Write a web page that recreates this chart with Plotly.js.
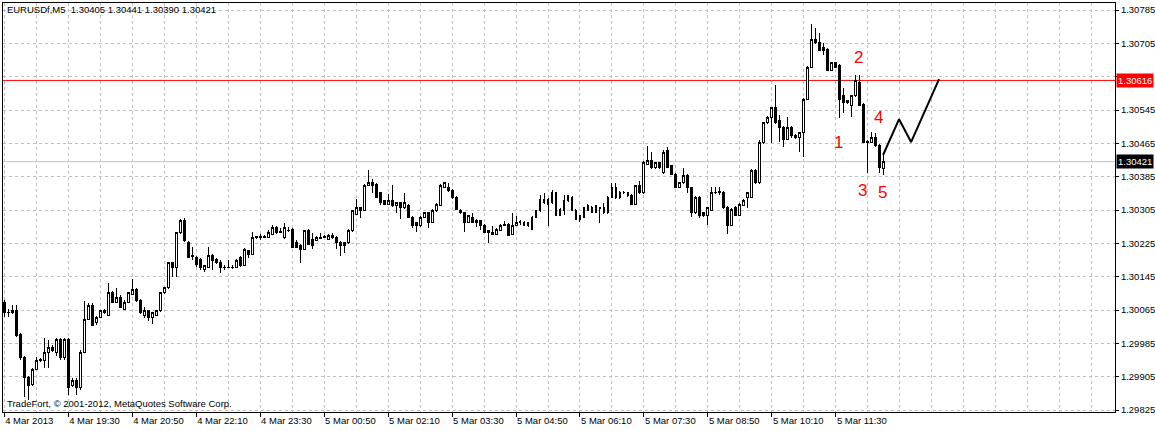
<!DOCTYPE html>
<html><head><meta charset="utf-8">
<script src="https://cdn.plot.ly/plotly-3.0.1.min.js"></script>
<style>html,body{margin:0;padding:0;background:#fff;}#chart{width:1155px;height:431px;}
#chart .boxlayer path{shape-rendering:crispEdges;}</style>
</head><body><div id="chart"></div>
<script>
// EURUSDf M5 bars, first bar = 4 Mar 2013 18:10, one bar per index
const open = [1.30084,1.30058,1.30060,1.30063,1.30007,1.29952,1.29904,1.29887,1.29923,1.29945,
1.29945,1.29964,1.29976,1.29962,1.29995,1.29952,1.29995,1.29885,1.29897,1.29878,
1.29964,1.30043,1.30077,1.30034,1.30048,1.30065,1.30053,1.30106,1.30084,1.30096,
1.30067,1.30084,1.30103,1.30115,1.30089,1.30053,1.30063,1.30048,1.30053,1.30063,
1.30106,1.30118,1.30178,1.30168,1.30250,1.30279,1.30228,1.30195,1.30192,1.30187,
1.30163,1.30168,1.30197,1.30187,1.30178,1.30168,1.30167,1.30168,1.30167,1.30192,
1.30173,1.30207,1.30199,1.30240,1.30241,1.30240,1.30240,1.30247,1.30264,1.30252,
1.30238,1.30257,1.30259,1.30226,1.30221,1.30211,1.30257,1.30235,1.30233,1.30238,
1.30240,1.30235,1.30245,1.30240,1.30228,1.30226,1.30226,1.30255,1.30295,1.30310,
1.30305,1.30365,1.30372,1.30367,1.30346,1.30327,1.30319,1.30329,1.30315,1.30322,
1.30310,1.30317,1.30288,1.30274,1.30267,1.30288,1.30298,1.30276,1.30303,1.30317,
1.30360,1.30360,1.30353,1.30336,1.30305,1.30298,1.30276,1.30288,1.30281,1.30279,
1.30269,1.30255,1.30250,1.30247,1.30257,1.30269,1.30271,1.30247,1.30269,1.30276,
1.30276,1.30274,1.30259,1.30288,1.30303,1.30322,1.30331,1.30322,1.30346,1.30293,
1.30305,1.30327,1.30336,1.30305,1.30283,1.30288,1.30305,1.30300,1.30300,1.30310,
1.30310,1.30298,1.30336,1.30360,1.30334,1.30348,1.30346,1.30341,1.30319,1.30363,
1.30346,1.30415,1.30423,1.30406,1.30418,1.30394,1.30449,1.30411,1.30391,1.30360,
1.30370,1.30389,1.30358,1.30298,1.30336,1.30298,1.30291,1.30305,1.30346,1.30348,
1.30348,1.30312,1.30269,1.30312,1.30293,1.30317,1.30334,1.30336,1.30401,1.30370,
1.30466,1.30514,1.30528,1.30552,1.30519,1.30504,1.30475,1.30504,1.30485,1.30478,
1.30490,1.30571,1.30648,1.30715,1.30708,1.30694,1.30691,1.30641,1.30658,1.30653,
1.30579,1.30562,1.30557,1.30579,1.30612,1.30559,1.30468,1.30468,1.30478,1.30461,
1.30405];
const high = [1.30089,1.30067,1.30077,1.30077,1.30010,1.29955,1.29907,1.29926,1.29952,1.29950,
1.29998,1.29993,1.29981,1.29998,1.29998,1.29998,1.29998,1.29902,1.29902,1.29969,
1.30087,1.30082,1.30082,1.30051,1.30065,1.30067,1.30130,1.30111,1.30118,1.30101,
1.30089,1.30108,1.30139,1.30118,1.30091,1.30072,1.30065,1.30060,1.30065,1.30108,
1.30120,1.30180,1.30180,1.30252,1.30283,1.30286,1.30231,1.30216,1.30195,1.30190,
1.30173,1.30216,1.30199,1.30190,1.30185,1.30173,1.30185,1.30173,1.30187,1.30195,
1.30214,1.30209,1.30252,1.30243,1.30247,1.30245,1.30257,1.30269,1.30267,1.30262,
1.30274,1.30264,1.30262,1.30233,1.30223,1.30257,1.30259,1.30250,1.30243,1.30250,
1.30245,1.30247,1.30250,1.30243,1.30231,1.30228,1.30259,1.30305,1.30331,1.30312,
1.30367,1.30401,1.30379,1.30370,1.30348,1.30329,1.30343,1.30365,1.30324,1.30324,
1.30346,1.30319,1.30291,1.30276,1.30291,1.30300,1.30300,1.30307,1.30322,1.30367,
1.30372,1.30370,1.30355,1.30339,1.30307,1.30300,1.30293,1.30298,1.30283,1.30281,
1.30271,1.30257,1.30267,1.30262,1.30271,1.30279,1.30274,1.30298,1.30291,1.30281,
1.30279,1.30276,1.30291,1.30305,1.30341,1.30346,1.30334,1.30353,1.30348,1.30310,
1.30341,1.30341,1.30339,1.30307,1.30293,1.30312,1.30319,1.30315,1.30317,1.30312,
1.30322,1.30339,1.30370,1.30370,1.30351,1.30351,1.30348,1.30343,1.30365,1.30375,
1.30423,1.30459,1.30444,1.30420,1.30420,1.30449,1.30456,1.30413,1.30394,1.30372,
1.30406,1.30391,1.30360,1.30339,1.30339,1.30300,1.30312,1.30360,1.30360,1.30360,
1.30351,1.30315,1.30310,1.30315,1.30322,1.30331,1.30348,1.30403,1.30403,1.30473,
1.30516,1.30531,1.30552,1.30605,1.30533,1.30507,1.30528,1.30507,1.30487,1.30492,
1.30574,1.30651,1.30751,1.30742,1.30730,1.30706,1.30694,1.30660,1.30660,1.30655,
1.30598,1.30569,1.30581,1.30629,1.30629,1.30562,1.30473,1.30492,1.30490,1.30463,
1.30441];
const low = [1.30048,1.30048,1.30055,1.30000,1.29945,1.29856,1.29849,1.29883,1.29921,1.29940,
1.29926,1.29926,1.29964,1.29955,1.29945,1.29945,1.29861,1.29880,1.29861,1.29873,
1.29962,1.30041,1.30027,1.30029,1.30046,1.30055,1.30051,1.30082,1.30082,1.30070,
1.30065,1.30082,1.30101,1.30084,1.30055,1.30046,1.30039,1.30031,1.30051,1.30060,
1.30103,1.30115,1.30144,1.30144,1.30247,1.30228,1.30190,1.30185,1.30168,1.30161,
1.30156,1.30166,1.30161,1.30175,1.30154,1.30161,1.30166,1.30163,1.30166,1.30168,
1.30171,1.30190,1.30197,1.30235,1.30233,1.30238,1.30238,1.30245,1.30247,1.30250,
1.30235,1.30252,1.30214,1.30214,1.30178,1.30209,1.30221,1.30211,1.30231,1.30235,
1.30238,1.30233,1.30235,1.30211,1.30194,1.30202,1.30223,1.30252,1.30293,1.30286,
1.30303,1.30363,1.30346,1.30334,1.30317,1.30317,1.30317,1.30312,1.30298,1.30283,
1.30307,1.30286,1.30262,1.30252,1.30264,1.30286,1.30262,1.30274,1.30300,1.30315,
1.30358,1.30348,1.30331,1.30305,1.30295,1.30252,1.30274,1.30274,1.30264,1.30257,
1.30250,1.30226,1.30245,1.30245,1.30255,1.30267,1.30243,1.30245,1.30267,1.30269,
1.30267,1.30264,1.30257,1.30286,1.30300,1.30319,1.30267,1.30319,1.30291,1.30291,
1.30293,1.30324,1.30303,1.30281,1.30276,1.30286,1.30303,1.30298,1.30298,1.30274,
1.30295,1.30295,1.30334,1.30331,1.30331,1.30343,1.30336,1.30317,1.30317,1.30343,
1.30343,1.30413,1.30403,1.30403,1.30403,1.30391,1.30406,1.30389,1.30358,1.30358,
1.30367,1.30346,1.30288,1.30295,1.30286,1.30288,1.30269,1.30303,1.30343,1.30341,
1.30307,1.30247,1.30267,1.30291,1.30291,1.30315,1.30310,1.30334,1.30367,1.30367,
1.30463,1.30511,1.30466,1.30511,1.30468,1.30456,1.30473,1.30478,1.30475,1.30444,
1.30432,1.30569,1.30646,1.30703,1.30687,1.30677,1.30639,1.30639,1.30646,1.30526,
1.30538,1.30559,1.30528,1.30576,1.30555,1.30466,1.30394,1.30466,1.30456,1.30394,
1.30390];
const close = [1.30058,1.30060,1.30063,1.30005,1.29952,1.29904,1.29885,1.29923,1.29945,1.29947,
1.29964,1.29976,1.29969,1.29995,1.29952,1.29995,1.29880,1.29897,1.29878,1.29964,
1.30043,1.30077,1.30029,1.30048,1.30063,1.30058,1.30106,1.30084,1.30096,1.30072,
1.30084,1.30106,1.30115,1.30087,1.30058,1.30063,1.30048,1.30058,1.30063,1.30106,
1.30118,1.30178,1.30166,1.30250,1.30279,1.30233,1.30192,1.30194,1.30175,1.30166,
1.30171,1.30197,1.30185,1.30178,1.30166,1.30167,1.30168,1.30167,1.30185,1.30171,
1.30211,1.30199,1.30238,1.30241,1.30240,1.30241,1.30252,1.30262,1.30250,1.30253,
1.30262,1.30256,1.30216,1.30216,1.30211,1.30255,1.30223,1.30221,1.30240,1.30237,
1.30241,1.30245,1.30238,1.30228,1.30219,1.30219,1.30257,1.30303,1.30310,1.30305,
1.30365,1.30372,1.30365,1.30336,1.30324,1.30319,1.30327,1.30315,1.30322,1.30310,
1.30322,1.30288,1.30269,1.30267,1.30288,1.30298,1.30276,1.30305,1.30319,1.30365,
1.30370,1.30351,1.30334,1.30307,1.30298,1.30276,1.30291,1.30276,1.30274,1.30267,
1.30252,1.30250,1.30247,1.30259,1.30269,1.30270,1.30245,1.30269,1.30276,1.30277,
1.30269,1.30267,1.30288,1.30303,1.30331,1.30331,1.30319,1.30348,1.30293,1.30307,
1.30329,1.30339,1.30305,1.30283,1.30291,1.30310,1.30317,1.30312,1.30315,1.30309,
1.30298,1.30336,1.30360,1.30334,1.30348,1.30346,1.30339,1.30319,1.30363,1.30346,
1.30420,1.30423,1.30406,1.30418,1.30406,1.30442,1.30408,1.30391,1.30360,1.30370,
1.30389,1.30358,1.30298,1.30336,1.30291,1.30291,1.30310,1.30346,1.30348,1.30349,
1.30310,1.30269,1.30307,1.30293,1.30319,1.30329,1.30346,1.30401,1.30370,1.30466,
1.30514,1.30528,1.30550,1.30514,1.30502,1.30475,1.30504,1.30485,1.30478,1.30490,
1.30571,1.30648,1.30715,1.30706,1.30689,1.30687,1.30641,1.30658,1.30648,1.30571,
1.30562,1.30567,1.30579,1.30615,1.30557,1.30468,1.30469,1.30480,1.30459,1.30406,
1.30421];

const timeTickBars = [0,16,32,48,64,80,96,112,128,144,160,176,192,208];
const timeTickLabels = ["4 Mar 2013","4 Mar 19:30","4 Mar 20:50","4 Mar 22:10","4 Mar 23:30",
  "5 Mar 00:50","5 Mar 02:10","5 Mar 03:30","5 Mar 04:50","5 Mar 06:10","5 Mar 07:30",
  "5 Mar 08:50","5 Mar 10:10","5 Mar 11:30"];
const priceTicks = [1.29825,1.29905,1.29985,1.30065,1.30145,1.30225,1.30305,1.30385,1.30465,1.30545,1.30625,1.30705,1.30785];

const levelPrice = 1.30616;   // red horizontal line
const bidPrice = 1.30421;     // current bid line
// hand-drawn forecast path (bar index, price)
const forecastX = [219.8, 223.8, 226.8, 233.8];
const forecastY = [1.30437, 1.30523, 1.30468, 1.30619];
// wave labels
const waveLabels = ["1","2","3","4","5"];
const waveX = [208.6, 213.6, 214.6, 218.6, 219.6];
const waveY = [1.30466, 1.30672, 1.30353, 1.30528, 1.30346];

const bars = open.map((_, i) => i);
const FONT = "'Liberation Sans', Arial, sans-serif";

const traces = [
  {
    type: 'candlestick', x: bars, open: open, high: high, low: low, close: close,
    increasing: {line: {color: '#000000', width: 1}, fillcolor: '#ffffff'},
    decreasing: {line: {color: '#000000', width: 1}, fillcolor: '#000000'},
    whiskerwidth: 0, hoverinfo: 'skip', showlegend: false
  },
  {
    type: 'scatter', mode: 'lines', x: forecastX, y: forecastY,
    line: {color: '#000000', width: 2}, hoverinfo: 'skip', showlegend: false
  }
];

const annotations = waveLabels.map((t, k) => ({
  text: t, x: waveX[k], y: waveY[k], xref: 'x', yref: 'y', showarrow: false,
  font: {family: FONT, size: 17, color: '#ff0000'}
}));
annotations.push({
  text: levelPrice.toFixed(5), xref: 'paper', x: 1, xanchor: 'left', xshift: 1,
  yref: 'y', y: levelPrice, showarrow: false, bgcolor: '#ff0000', borderpad: 1,
  font: {family: FONT, size: 9.5, color: '#ffffff'}
});
annotations.push({
  text: bidPrice.toFixed(5), xref: 'paper', x: 1, xanchor: 'left', xshift: 1,
  yref: 'y', y: bidPrice, showarrow: false, bgcolor: '#000000', borderpad: 1,
  font: {family: FONT, size: 9.5, color: '#ffffff'}
});
annotations.push({
  text: 'TradeFort, © 2001-2012, MetaQuotes Software Corp.', xref: 'paper', x: 0, xanchor: 'left', xshift: 2,
  yref: 'paper', y: 0, yanchor: 'bottom', yshift: 1, showarrow: false,
  font: {family: FONT, size: 9.5, color: '#000000'}
});

// the tick label hidden behind the red price box is left blank
const priceTickText = priceTicks.map(v => Math.abs(v - levelPrice) < 0.00015 ? '' : v.toFixed(5));

const layout = {
  width: 1155, height: 431,
  margin: {l: 3, r: 40, t: 3, b: 19, pad: 0},
  paper_bgcolor: '#ffffff', plot_bgcolor: '#ffffff',
  showlegend: false,
  title: {text: 'EURUSDf,M5  1.30405 1.30441 1.30390 1.30421', x: 0.006, xanchor: 'left',
          y: 0.977, yanchor: 'middle', xref: 'container', yref: 'container',
          font: {family: FONT, size: 9.5, color: '#000000'}},
  font: {family: FONT, size: 9.5, color: '#000000'},
  xaxis: {
    range: [-0.3, 277.8], tickmode: 'array', tickvals: timeTickBars, ticktext: timeTickLabels,
    ticks: 'outside', ticklen: 4, tickcolor: '#000000', ticklabelposition: 'outside right',
    showgrid: true, gridcolor: '#c0c0c0', griddash: '3px,3px', gridwidth: 1,
    minor: {tickmode: 'linear', tick0: 0, dtick: 8, showgrid: true, gridcolor: '#c0c0c0', griddash: '3px,3px', ticklen: 0},
    showline: true, mirror: true, linecolor: '#000000', linewidth: 1,
    zeroline: false, rangeslider: {visible: false}, fixedrange: true,
    tickfont: {family: FONT, size: 9.5, color: '#000000'}
  },
  yaxis: {
    range: [1.298202, 1.308018], side: 'right', tickmode: 'array', tickvals: priceTicks,
    ticktext: priceTickText,
    ticks: 'outside', ticklen: 3, tickcolor: '#000000',
    showgrid: true, gridcolor: '#c0c0c0', griddash: '3px,3px', gridwidth: 1,
    showline: true, mirror: true, linecolor: '#000000', linewidth: 1,
    zeroline: false, fixedrange: true,
    tickfont: {family: FONT, size: 9.5, color: '#000000'}
  },
  shapes: [
    {type: 'line', xref: 'paper', x0: 0, x1: 1, yref: 'y', y0: bidPrice, y1: bidPrice,
     line: {color: '#c0c0c0', width: 1}, layer: 'below'},
    {type: 'line', xref: 'paper', x0: 0, x1: 1, yref: 'y', y0: levelPrice, y1: levelPrice,
     line: {color: '#ff0000', width: 1}, layer: 'below'}
  ],
  annotations: annotations
};

Plotly.newPlot('chart', traces, layout, {staticPlot: true, displayModeBar: false});
</script>
</body></html>
